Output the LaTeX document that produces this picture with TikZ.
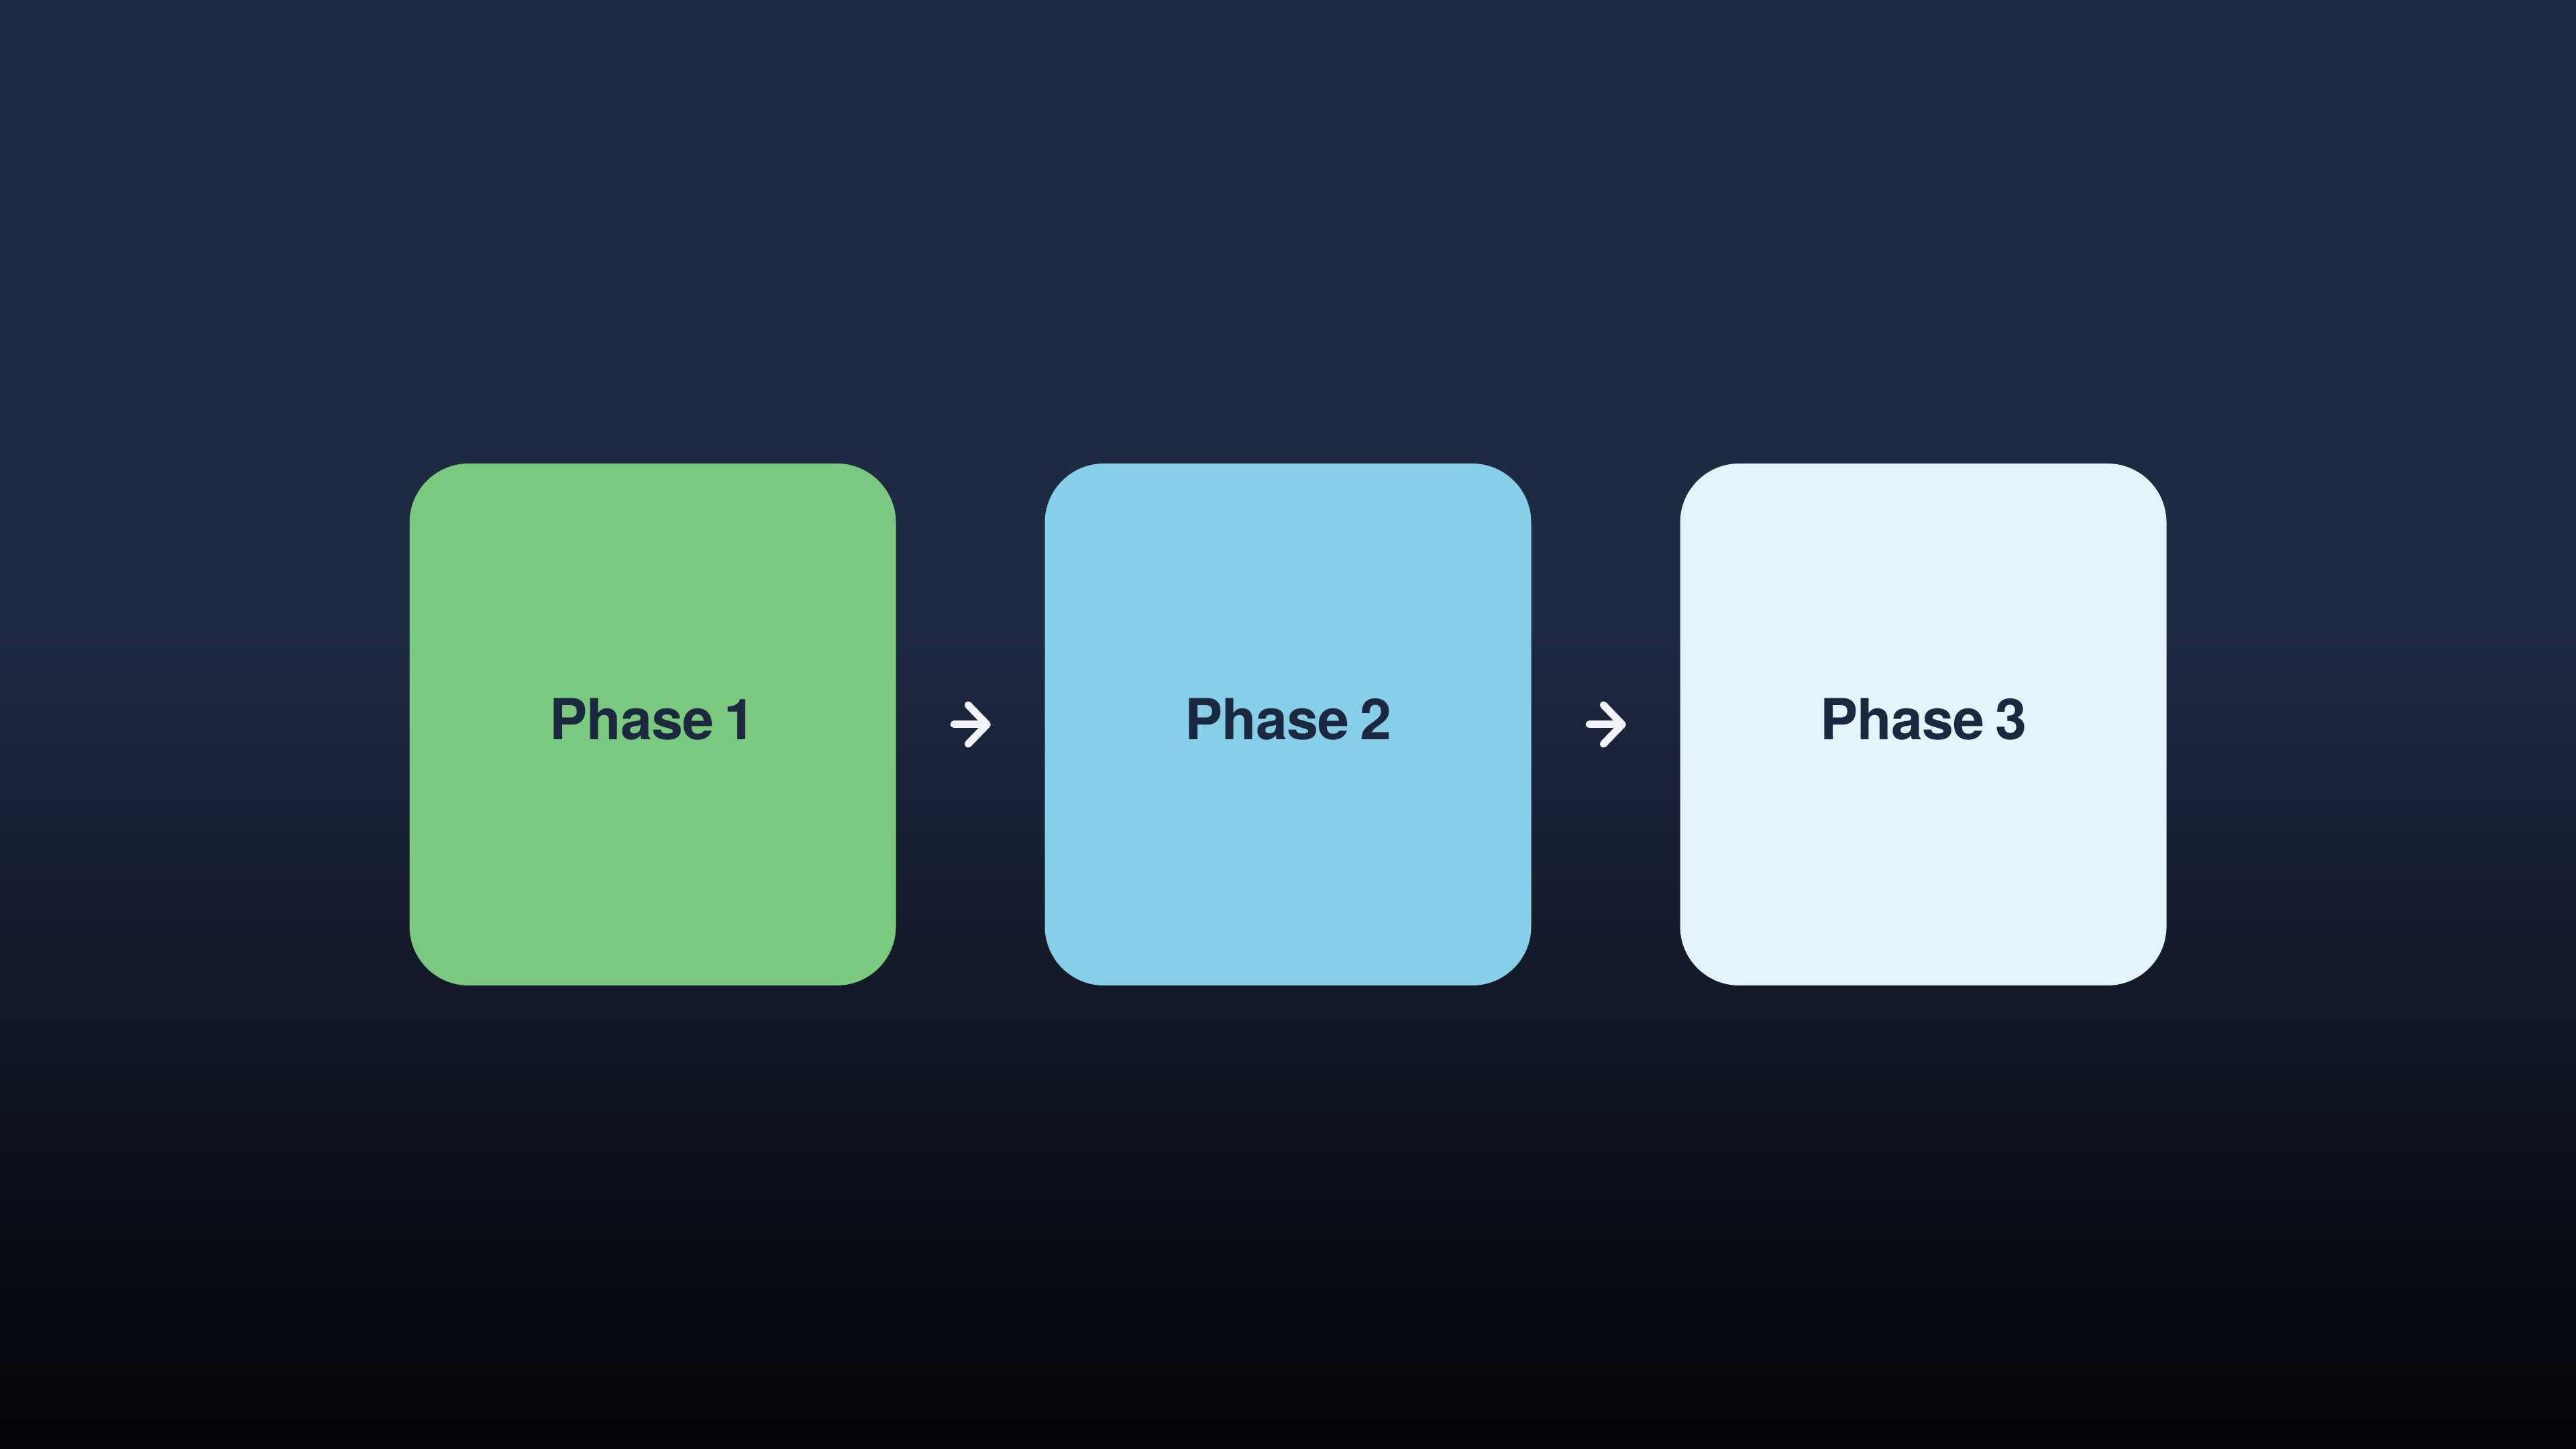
\documentclass[tikz,border=0pt]{standalone}
\usepackage{fontspec}
\usepackage{xcolor}
\usetikzlibrary{positioning,arrows.meta}
\newfontfamily\phasefont[WordSpace=0.7, LetterSpace=-1]{TeX Gyre Heros}
\definecolor{bgNavy}{RGB}{30, 41, 66}
\definecolor{bgMid}{RGB}{22, 30, 48}
\definecolor{bgBlack}{RGB}{3, 4, 8}
\definecolor{phaseGreen}{RGB}{123, 201, 126}
\definecolor{phaseBlue}{RGB}{135, 206, 232}
\definecolor{phasePale}{RGB}{227, 243, 250}
\definecolor{phaseText}{RGB}{27, 40, 64}
\definecolor{arrowWhite}{RGB}{242, 244, 247}

\begin{document}
\begin{tikzpicture}[node distance=9.47cm,
    phasebox/.style={rounded corners=0.88cm, minimum width=7.25cm, minimum height=7.78cm, inner sep=0pt,
        text height=0.6cm, text depth=0.15cm,
        text=phaseText, font=\phasefont\bfseries\fontsize{24}{28}\selectfont},
    flow/.style={-{Straight Barb[length=0.28cm, width=0.58cm, line cap=round, line join=round]},
        line width=0.11cm, line cap=round, color=arrowWhite, shorten <=0.86cm, shorten >=0.8cm}]
            \useasboundingbox (0,0) rectangle (38.4,21.6);
            % background
            \fill[bgNavy] (0,0) rectangle (38.4,21.6);
            \shade[top color=bgNavy, bottom color=bgMid] (0,8.6) rectangle (38.4,12.2);
            \shade[top color=bgMid, bottom color=bgBlack] (0,0) rectangle (38.4,8.6);
            % phases
            \node[phasebox, fill=phaseGreen] (phaseone) at (9.73,10.8) {Phase 1};
            \node[phasebox, fill=phaseBlue, right of=phaseone] (phasetwo) {Phase 2};
            \node[phasebox, fill=phasePale, right of=phasetwo] (phasethree) {Phase 3};
            \draw[flow] (phaseone) -- (phasetwo);
            \draw[flow] (phasetwo) -- (phasethree);
        \end{tikzpicture}
\end{document}
